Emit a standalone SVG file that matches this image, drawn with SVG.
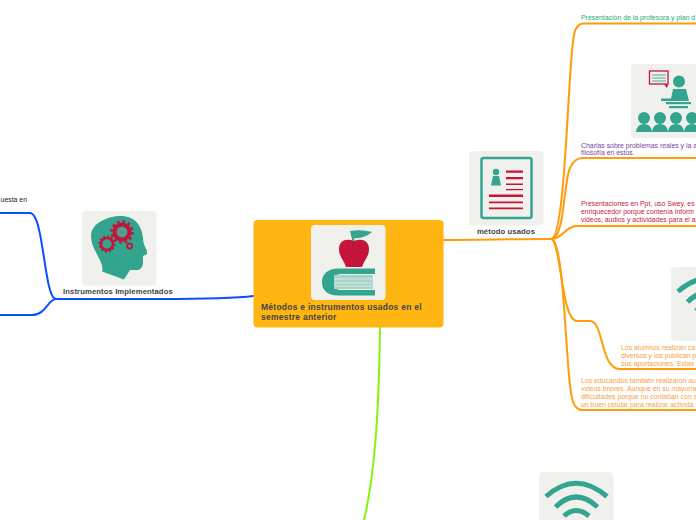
<svg xmlns="http://www.w3.org/2000/svg" width="696" height="520" viewBox="0 0 696 520">
<style>
.card{fill:#f0f0ed}
.t{fill:#33a58e}
.r{fill:#c5143a}
.ln{fill:none;stroke-linecap:round}
.o{stroke:#ff9c0a;stroke-width:2}
.b{stroke:#0a50ff;stroke-width:2}
.g{stroke:#84f50a;stroke-width:2}
text{font-family:"Liberation Sans",Arial,sans-serif}
.s{font-size:6.900px}
.h{font-size:7.700px;font-weight:bold;fill:#444;letter-spacing:.1px}
.w{fill:none;stroke:#33a58e;stroke-width:5}
</style>
<defs>
<g id="wifi">
<path class="w" d="M7 24.500Q37 -2 68 24.500"/>
<path class="w" d="M16.500 35Q37 15 58.500 35"/>
<path class="w" d="M25 44Q37 33 50 44"/>
</g>
</defs>
<g id="connectors">
<path class="ln o" d="M443 240C480 240 510 239 551 239"/>
<path class="ln o" d="M551 239C566 239 568 60 574 35Q576 24 583 23.500L696 23.500"/>
<path class="ln o" d="M551 239C565 239 563 184 570 168Q574 158 583 158L696 158"/>
<path class="ln o" d="M551 239C563 239 565 226 577 226L696 226"/>
<path class="ln o" d="M551 239C561 239 561 321 577 321L590 321C604 321 600 369 620 369L696 369"/>
<path class="ln o" d="M551 239C566 239 565 390 574 404Q577 410 582 410L696 410"/>
<path class="ln b" d="M253.500 296C230 299 190 299 160 299L56 299"/>
<path class="ln b" d="M56 299C44 299 44 213 30 213L0 213"/>
<path class="ln b" d="M56 299C48 299 46 315 32 315L0 315"/>
<path class="ln g" d="M380 327C379 400 376 470 364 520"/>
</g>
<g id="root">
<rect x="253.500" y="220" width="190" height="107.500" rx="4" fill="#ffb612"/>
<rect class="card" x="311" y="225" width="74.500" height="75" rx="4"/>
<path class="t" d="M350 231L353 243L355 243L354 238Q364 239 372 232Q362 229 350 231Z"/>
<path class="r" d="M346 267C344 260 339 257 339 249C339 240 347 238 354 241C361 238 369 240 369 249C369 257 364 260 362 267Z"/>
<path class="t" d="M375 268.500L375 274L341 274C335 274 334 277 334 282C334 288 336 290 341 290L375 290L375 295.500L338 295.500C327 295.500 322 290 322 282C322 274 328 268.500 338 268.500Z"/>
<rect x="334" y="275" width="39" height="14" fill="#a5d5c9"/>
<path d="M334 279H373M334 283H373M334 286H373" stroke="#f0f0ed" stroke-width=".7"/>
<text class="h" style="font-size:8.500px;letter-spacing:.25px"><tspan x="261" y="310">Métodos e instrumentos usados en el</tspan><tspan x="261" y="320">semestre anterior</tspan></text>
</g>
<g id="metodo">
<rect class="card" x="469" y="151" width="74.500" height="74.500" rx="4"/>
<rect x="481.500" y="158" width="50" height="60" rx="2" fill="none" stroke="#33a58e" stroke-width="2.500"/>
<circle class="t" cx="496" cy="172" r="3.200"/>
<path class="t" d="M493 176H499L501 185.500H491Z"/>
<path class="r" d="M506 170.500h17v2.200h-17zM506 177h17v2.200h-17zM506 183.500h17v1.500h-17zM506 189h17v1.300h-17zM489 194.500h34v2.500h-34zM489 201.500h34v1.800h-34zM489 207.500h34v1.800h-34z"/>
<text class="h" x="506" y="234" text-anchor="middle">método usados</text>
</g>
<g id="instrumentos">
<rect class="card" x="82" y="211" width="74.500" height="74.500" rx="4"/>
<path class="t" d="M91 236C91 223 108 216 121 216C135 216 142 226 143 238C143 244 146 248 147 251L147 254L143 256C143 262 144 268 138 270L130 270L124 279.500L102 271.500C105 262 91 250 91 236Z"/>
<circle cx="122" cy="232" r="7.500" fill="none" stroke="#c5143a" stroke-width="4"/>
<circle cx="122" cy="232" r="3.500" fill="none" stroke="#d9738a" stroke-width=".8"/>
<circle cx="122" cy="232" r="10.500" fill="none" stroke="#c5143a" stroke-width="2.500" stroke-dasharray="2.700 2.800"/>
<circle cx="107" cy="244" r="6" fill="none" stroke="#c5143a" stroke-width="2.500"/>
<circle cx="107" cy="244" r="7.500" fill="none" stroke="#c5143a" stroke-width="2" stroke-dasharray="2 1.900"/>
<circle cx="129.500" cy="246" r="2.500" fill="none" stroke="#c5143a" stroke-width="1.800"/>
<text class="h" x="63" y="294">Instrumentos Implementados</text>
</g>
<g id="presentacion">
<text class="s" x="581" y="20" fill="#27ae6f">Presentación de la profesora y plan d</text>
</g>
<g id="charlas">
<rect class="card" x="631" y="64" width="70" height="74" rx="4"/>
<rect x="649.500" y="71" width="18.500" height="13" fill="#f0f0ed" stroke="#c5143a" stroke-width="1.300"/>
<path d="M652 75H666M652 78H666M652 81H666" stroke="#33a58e" stroke-width=".9"/>
<path class="r" d="M664 84.500L668 84.500L667 88Z"/>
<circle class="t" cx="679" cy="81.500" r="6"/>
<path class="t" d="M673 89H686L689 101H661V98.500H671Z"/>
<rect class="t" x="666" y="102" width="25" height="2.200"/>
<rect class="t" x="669" y="106" width="19" height="2.200"/>
<g class="t">
<circle cx="644" cy="118" r="6"/><path d="M636 132Q637 124 644 124Q651 124 652 132Z"/>
<circle cx="660" cy="118" r="6"/><path d="M652 132Q653 124 660 124Q667 124 668 132Z"/>
<circle cx="676" cy="118" r="6"/><path d="M668 132Q669 124 676 124Q683 124 684 132Z"/>
<circle cx="692" cy="118" r="6"/><path d="M684 132Q685 124 692 124Q699 124 700 132Z"/>
</g>
<text class="s" fill="#7a3fa5"><tspan x="581" y="147.500">Charlas sobre problemas reales y la a</tspan><tspan x="581" y="155">filosofía en estos.</tspan></text>
</g>
<g id="presentaciones">
<text class="s" fill="#c8203f"><tspan x="581" y="206">Presentaciones en Ppt, uso Swey, es</tspan><tspan x="581" y="214">enriquecedor porque contenía inform</tspan><tspan x="581" y="222">videos, audios y actividades para el a</tspan></text>
</g>
<g id="alumnos">
<rect class="card" x="671" y="267" width="40" height="74" rx="4"/>
<use href="#wifi" x="671" y="267"/>
<text class="s" fill="#f7a13f"><tspan x="621" y="350">Los alumnos realizan ca</tspan><tspan x="621" y="358">diversos y los publican p</tspan><tspan x="621" y="366">sus aportaciones. Estas</tspan></text>
</g>
<g id="educandos">
<text class="s" fill="#f7a13f"><tspan x="581" y="383">Los educandos también realizaron au</tspan><tspan x="581" y="391">videos breves. Aunque en su mayoría</tspan><tspan x="581" y="399">dificultades porque no contaban con s</tspan><tspan x="581" y="407">un buen celular para realizar activida</tspan></text>
</g>
<g id="encuesta">
<text class="s" x="27" y="202" text-anchor="end" fill="#222">uesta en</text>
</g>
<g id="tercero">
<rect class="card" x="539" y="472" width="74.500" height="60" rx="4"/>
<use href="#wifi" x="539" y="472"/>
</g>
</svg>
